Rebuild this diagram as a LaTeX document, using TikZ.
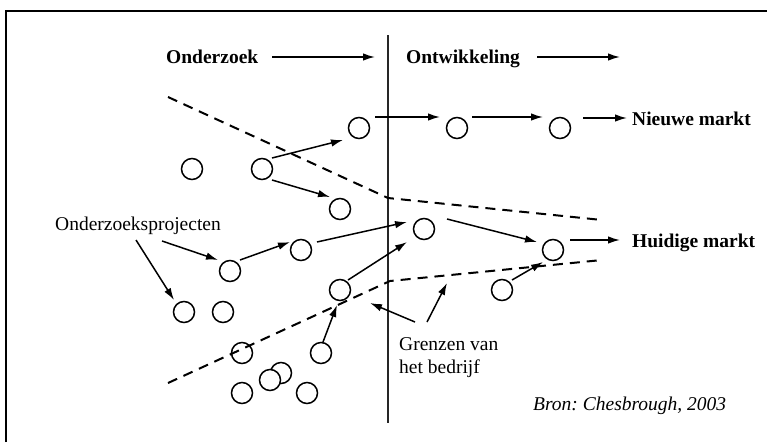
\documentclass[tikz,border=0pt]{standalone}
\usepackage{fontspec}
\setmainfont{Liberation Serif}
\usetikzlibrary{arrows.meta}
\frenchspacing
\begin{document}
\begin{tikzpicture}[x=1pt,y=-1pt,
  proj/.style={circle,draw,line width=1.5pt,minimum size=21pt,inner sep=0pt},
  arr/.style={line width=1.5pt,-{Latex[length=12pt,width=7.5pt]}},
  bound/.style={line width=2pt,dash pattern=on 10pt off 7pt},
  lbl/.style={font=\fontsize{19.5}{23}\selectfont,inner sep=0pt},
  hdr/.style={font=\fontsize{19.5}{23}\selectfont\bfseries,inner sep=0pt}]
\useasboundingbox[fill=white] (0,0) rectangle (767,442);
% frame (cropped)
\draw[line width=1.5pt] (6,442) -- (6,11) -- (767,11);
% company border line
\draw[line width=2.3pt,black!85] (388,35) -- (388,423);
% dashed boundaries
\draw[bound] (168,97) -- (388,198) -- (602,220);
\draw[bound] (168,383) -- (390,281) -- (602,260);
% headers
\node[hdr,anchor=base west] (onz) at (166,63) {Onderzoek};
\node[hdr,anchor=base west] (ontw) at (406,63) {Ontwikkeling};
\draw[arr] ([shift={(106,-6)}]onz.base west) -- ([shift={(209,-6)}]onz.base west);
\draw[arr] ([shift={(131,-6)}]ontw.base west) -- ([shift={(214,-6)}]ontw.base west);
% markets
\node[hdr,anchor=base west] (nm) at (632,125) {Nieuwe markt};
\node[hdr,anchor=base west] (hm) at (632,247) {Huidige markt};
% circles
\node[proj] (c1) at (359,128) {};
\node[proj] (c2) at (457,128) {};
\node[proj] (c3) at (560,128) {};
\node[proj] (c4) at (192,169) {};
\node[proj] (c5) at (262,169) {};
\node[proj] (c6) at (340,209) {};
\node[proj] (c7) at (424,229) {};
\node[proj] (c8) at (553,250) {};
\node[proj] (c9) at (230,271) {};
\node[proj] (c10) at (301,250) {};
\node[proj] (c11) at (340,290) {};
\node[proj] (c12) at (502,290) {};
\node[proj] (c13) at (184,312) {};
\node[proj] (c14) at (223,312) {};
\node[proj] (c15) at (242,353) {};
\node[proj] (c16) at (321,353) {};
\node[proj] (c17) at (281,373) {};
\node[proj,fill=white] (c18) at (270,380) {};
\node[proj] (c19) at (242,393) {};
\node[proj] (c20) at (307,393) {};
% project arrows
\draw[arr] ([shift={(10,-11)}]c5.center) -- ([shift={(-16,12)}]c1.center);
\draw[arr] ([shift={(10,11)}]c5.center) -- ([shift={(-10,-12)}]c6.center);
\draw[arr] ([shift={(16,-11)}]c1.center) -- ([shift={(-17,-11)}]c2.center);
\draw[arr] ([shift={(15,-11)}]c2.center) -- ([shift={(-17,-11)}]c3.center);
\draw[arr] ([shift={(23,-10)}]c3.center) -- ([shift={(-5,-7)}]nm.base west);
\draw[arr] ([shift={(10,-11)}]c9.center) -- ([shift={(-11,-8)}]c10.center);
\draw[arr] ([shift={(16,-8)}]c10.center) -- ([shift={(-17,-7)}]c7.center);
\draw[arr] ([shift={(8,-10)}]c11.center) -- ([shift={(-17,13)}]c7.center);
\draw[arr] ([shift={(2,-11)}]c16.center) -- ([shift={(-3,15)}]c11.center);
\draw[arr] ([shift={(23,-10)}]c7.center) -- ([shift={(-16,-8)}]c8.center);
\draw[arr] ([shift={(10,-10)}]c12.center) -- ([shift={(-10,12)}]c8.center);
\draw[arr] ([shift={(17,-10)}]c8.center) -- ([shift={(-12,-7)}]hm.base west);
% labels
\node[lbl,anchor=base west] (op) at (55,230) {Onderzoeksprojecten};
\draw[arr] ([shift={(81,10)}]op.base west) -- ([shift={(-10,-12)}]c13.center);
\draw[arr] ([shift={(107,11)}]op.base west) -- ([shift={(-12,-11)}]c9.center);
\node[lbl,anchor=north west,align=left] (gr) at (399,337) {Grenzen van\\het bedrijf};
\coordinate (gbV) at (370,303);
\coordinate (gbD) at (447,283);
\draw[arr] ([shift={(16,-15)}]gr.north west) -- (gbV);
\draw[arr] ([shift={(28,-15)}]gr.north west) -- (gbD);
\node[lbl,anchor=base west,font=\fontsize{19.5}{23}\selectfont\itshape] (bron) at (533,410) {Bron: Chesbrough, 2003};
\end{tikzpicture}
\end{document}
